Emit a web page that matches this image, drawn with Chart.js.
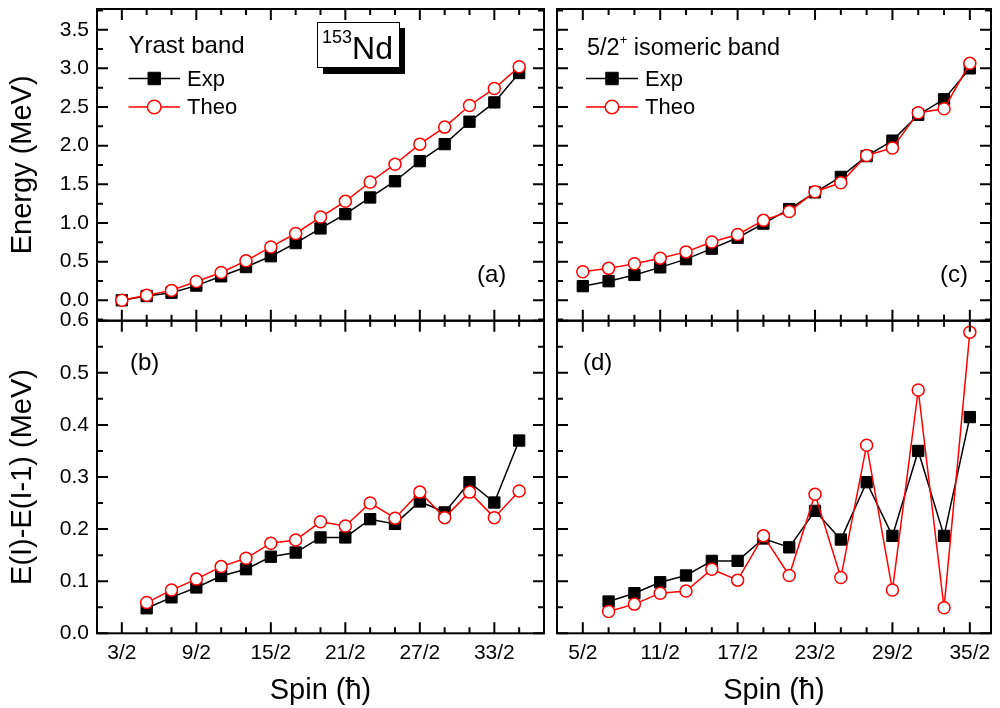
<!DOCTYPE html>
<html>
<head>
<meta charset="utf-8">
<script src="https://cdn.jsdelivr.net/npm/chart.js@4.4.1/dist/chart.umd.min.js"></script>
<style>
  html, body { margin: 0; padding: 0; background: #fff; }
  #wrap { position: relative; width: 1000px; height: 708px; overflow: hidden; }
  canvas { position: absolute; left: 0; top: 0; }
</style>
</head>
<body>
<div id="wrap">
  <canvas id="panelA" width="1000" height="708"></canvas>
  <canvas id="panelB" width="1000" height="708"></canvas>
  <canvas id="panelC" width="1000" height="708"></canvas>
  <canvas id="panelD" width="1000" height="708"></canvas>
</div>
<script>
// (a) yrast band energies
const spinsA = ['3/2','5/2','7/2','9/2','11/2','13/2','15/2','17/2','19/2','21/2','23/2','25/2','27/2','29/2','31/2','33/2','35/2'];
const expA  = [0.0, 0.055, 0.098, 0.19, 0.31, 0.43, 0.57, 0.74, 0.93, 1.115, 1.33, 1.54, 1.80, 2.02, 2.31, 2.56, 2.94];
const theoA = [0.0, 0.064, 0.128, 0.243, 0.36, 0.51, 0.69, 0.864, 1.077, 1.28, 1.53, 1.76, 2.02, 2.24, 2.52, 2.74, 3.02];

// (b) yrast band E(I)-E(I-1)
const spinsB = ['5/2','7/2','9/2','11/2','13/2','15/2','17/2','19/2','21/2','23/2','25/2','27/2','29/2','31/2','33/2','35/2'];
const expB  = [0.048, 0.069, 0.088, 0.110, 0.123, 0.147, 0.155, 0.184, 0.184, 0.219, 0.21, 0.253, 0.232, 0.29, 0.251, 0.37];
const theoB = [0.059, 0.083, 0.104, 0.128, 0.144, 0.173, 0.179, 0.214, 0.206, 0.25, 0.221, 0.271, 0.222, 0.271, 0.222, 0.273];

// (c) 5/2+ isomeric band energies
const spinsC = ['5/2','7/2','9/2','11/2','13/2','15/2','17/2','19/2','21/2','23/2','25/2','27/2','29/2','31/2','33/2','35/2'];
const expC  = [0.183, 0.247, 0.328, 0.426, 0.532, 0.668, 0.809, 0.992, 1.18, 1.396, 1.596, 1.865, 2.065, 2.40, 2.60, 3.00];
const theoC = [0.37, 0.413, 0.473, 0.545, 0.626, 0.754, 0.851, 1.034, 1.149, 1.405, 1.52, 1.873, 1.971, 2.427, 2.478, 3.065];

// (d) isomeric band E(I)-E(I-1)
const spinsD = ['7/2','9/2','11/2','13/2','15/2','17/2','19/2','21/2','23/2','25/2','27/2','29/2','31/2','33/2','35/2'];
const expD  = [0.061, 0.077, 0.098, 0.111, 0.139, 0.139, 0.182, 0.165, 0.235, 0.18, 0.29, 0.187, 0.35, 0.187, 0.415];
const theoD = [0.042, 0.056, 0.077, 0.081, 0.123, 0.102, 0.187, 0.111, 0.267, 0.107, 0.361, 0.083, 0.467, 0.049, 0.578];

// tick labels
const xTicksLeft  = ['3/2','9/2','15/2','21/2','27/2','33/2'];
const xTicksRight = ['5/2','11/2','17/2','23/2','29/2','35/2'];
const yTicksEnergy = ['0.0','0.5','1.0','1.5','2.0','2.5','3.0','3.5'];
const yTicksDiff   = ['0.0','0.1','0.2','0.3','0.4','0.5','0.6'];

const FONT = "'Liberation Sans', Arial, Helvetica, sans-serif";
Chart.defaults.font.family = FONT;
Chart.defaults.color = '#000';

const frac = s => { const [a, b] = s.split('/'); return a / b; };
const range = (from, to, step) => { const out = []; for (let v = from; v <= to + 1e-9; v += step) out.push(+v.toFixed(4)); return out; };

// frame with inward ticks on all four sides
const frameTicks = {
  id: 'frameTicks',
  afterDraw(chart, args, o) {
    const { ctx, chartArea: a, scales: { x, y } } = chart;
    ctx.save();
    ctx.strokeStyle = '#000';
    ctx.lineWidth = 2;
    ctx.beginPath();
    const mark = (vals, len, horiz) => vals.forEach(v => {
      if (horiz) {
        const px = x.getPixelForValue(v);
        ctx.moveTo(px, a.bottom); ctx.lineTo(px, a.bottom - len);
        ctx.moveTo(px, a.top); ctx.lineTo(px, a.top + len);
      } else {
        const py = y.getPixelForValue(v);
        ctx.moveTo(a.left, py); ctx.lineTo(a.left + len, py);
        ctx.moveTo(a.right, py); ctx.lineTo(a.right - len, py);
      }
    });
    mark(o.xMinor, 6, true); mark(o.xMajor, 11, true);
    mark(o.yMinor, 6, false); mark(o.yMajor, 11, false);
    ctx.stroke();
    ctx.strokeRect(a.left, a.top, a.right - a.left, a.bottom - a.top);
    ctx.restore();
  }
};

const drawParts = (ctx, parts, x, y) => {
  let cx = x;
  parts.forEach(p => {
    ctx.font = `${p.size}px ${FONT}`;
    ctx.fillText(p.t, cx, y - (p.rise || 0));
    cx += ctx.measureText(p.t).width;
  });
};

// labels, legend and the isotope box
const notes = {
  id: 'notes',
  afterDraw(chart, args, o) {
    const ctx = chart.ctx;
    ctx.save();
    ctx.fillStyle = '#000';
    ctx.textBaseline = 'alphabetic';
    ctx.textAlign = 'left';
    (o.texts || []).forEach(t => drawParts(ctx, t.parts, t.x, t.y));

    if (o.box) {
      const b = o.box;
      ctx.fillStyle = '#000';
      ctx.fillRect(b.x + 6, b.y + 6, b.w, b.h + 1);
      ctx.fillStyle = '#fff';
      ctx.fillRect(b.x, b.y, b.w, b.h);
      ctx.strokeStyle = '#000';
      ctx.lineWidth = 1;
      ctx.strokeRect(b.x + 0.5, b.y + 0.5, b.w, b.h);
      ctx.fillStyle = '#000';
      drawParts(ctx, [{ t: '153', size: 18, rise: 16 }, { t: 'Nd', size: 32 }], b.x + 5, b.y + 37);
    }

    if (o.legend) {
      const L = o.legend;
      L.order.forEach((idx, k) => {
        const ds = chart.data.datasets[idx];
        const yy = L.y + k * L.gap;
        ctx.strokeStyle = ds.borderColor;
        ctx.lineWidth = 1.5;
        ctx.beginPath();
        ctx.moveTo(L.x0, yy); ctx.lineTo(L.x1, yy);
        ctx.stroke();
        ctx.fillStyle = ds.pointBackgroundColor;
        ctx.strokeStyle = ds.pointBorderColor;
        ctx.lineWidth = ds.pointBorderWidth;
        Chart.helpers.drawPoint(ctx, { pointStyle: ds.pointStyle, radius: ds.pointRadius + 0.8, borderWidth: ds.pointBorderWidth, rotation: 0 }, (L.x0 + L.x1) / 2, yy);
        ctx.fillStyle = '#000';
        ctx.textBaseline = 'middle';
        ctx.font = `22px ${FONT}`;
        ctx.fillText(ds.label, L.x1 + 7, yy + 1);
      });
    }
    ctx.restore();
  }
};

function panel(id, o) {
  const zeroPad = s => { s.paddingLeft = 0; s.paddingRight = 0; s.paddingTop = 0; s.paddingBottom = 0; };
  return new Chart(document.getElementById(id), {
    type: 'line',
    data: {
      datasets: [
        {
          label: 'Exp',
          data: o.spins.map((s, i) => ({ x: frac(s), y: o.exp[i] })),
          borderColor: '#000', borderWidth: 1.5,
          pointStyle: 'rect', pointRadius: 8, pointBorderWidth: 1,
          pointBackgroundColor: '#000', pointBorderColor: '#000',
          tension: 0, order: 1, clip: false
        },
        {
          label: 'Theo',
          data: o.spins.map((s, i) => ({ x: frac(s), y: o.theo[i] })),
          borderColor: '#ff0000', borderWidth: 1.5,
          pointStyle: 'circle', pointRadius: 6, pointBorderWidth: 1.5,
          pointBackgroundColor: '#fff', pointBorderColor: '#ff0000',
          tension: 0, order: 0, clip: false
        }
      ]
    },
    options: {
      responsive: false,
      animation: false,
      events: [],
      layout: { padding: o.padding },
      plugins: {
        legend: { display: false },
        tooltip: { enabled: false },
        frameTicks: o.frame,
        notes: o.notes
      },
      scales: {
        x: {
          type: 'linear', min: o.xMin, max: o.xMax, display: o.showX,
          grid: { display: false, drawTicks: false }, border: { display: false },
          afterBuildTicks: s => { s.ticks = o.xTicks.map(t => ({ value: frac(t) })); },
          ticks: { autoSkip: false, maxRotation: 0, padding: 7, font: { size: 21 }, callback: (v, i) => o.xTicks[i] },
          title: { display: o.showX, text: 'Spin (ħ)', font: { size: 29 }, padding: 0 },
          afterFit: s => { s.height = o.showX ? 74.7 : 0; zeroPad(s); }
        },
        y: {
          type: 'linear', min: o.yMin, max: o.yMax, display: o.showY,
          grid: { display: false, drawTicks: false }, border: { display: false },
          afterBuildTicks: s => { s.ticks = o.yTicks.map(t => ({ value: parseFloat(t) })); },
          ticks: { padding: 8, font: { size: 21 }, callback: (v, i) => o.yTicks[i] },
          title: { display: o.showY, text: o.yTitle, font: { size: 29 }, padding: { top: 6, bottom: 0 } },
          afterFit: s => { s.width = o.showY ? 97 : 0; zeroPad(s); }
        }
      }
    },
    plugins: [frameTicks, notes]
  });
}

const leftX = { xMin: 0.5, xMax: 18.5, xTicks: xTicksLeft };
const rightX = { xMin: 1.5, xMax: 18.32, xTicks: xTicksRight };
const frameLeft = { xMinor: range(1.5, 17.5, 1), xMajor: xTicksLeft.map(frac) };
const frameRight = { xMinor: range(2.5, 17.5, 1), xMajor: xTicksRight.map(frac) };
const energyY = { yMin: -0.264, yMax: 3.768, yTicks: yTicksEnergy, yMinor: range(-0.25, 3.75, 0.25), yMajor: range(0, 3.5, 0.5) };
const diffY = { yMin: 0, yMax: 0.6, yTicks: yTicksDiff, yMinor: range(0.05, 0.55, 0.05), yMajor: range(0, 0.6, 0.1) };
const topPad = { top: 5, bottom: 708 - 320.7 };
const botPad = { top: 320.7, bottom: 0 };

panel('panelA', {
  spins: spinsA, exp: expA, theo: theoA,
  ...leftX, yMin: energyY.yMin, yMax: energyY.yMax, yTicks: energyY.yTicks,
  showX: false, showY: true, yTitle: 'Energy (MeV)',
  padding: { ...topPad, left: 0, right: 456 },
  frame: { ...frameLeft, yMinor: energyY.yMinor, yMajor: energyY.yMajor },
  notes: {
    texts: [
      { parts: [{ t: 'Yrast band', size: 24 }], x: 128.5, y: 53 },
      { parts: [{ t: '(a)', size: 24 }], x: 477, y: 282 }
    ],
    legend: { order: [0, 1], x0: 128.5, x1: 180, y: 78.5, gap: 28.5 },
    box: { x: 317, y: 22, w: 82, h: 45 }
  }
});

panel('panelB', {
  spins: spinsB, exp: expB, theo: theoB,
  ...leftX, yMin: diffY.yMin, yMax: diffY.yMax, yTicks: diffY.yTicks,
  showX: true, showY: true, yTitle: 'E(I)-E(I-1) (MeV)',
  padding: { ...botPad, left: 0, right: 456 },
  frame: { ...frameLeft, yMinor: diffY.yMinor, yMajor: diffY.yMajor },
  notes: { texts: [{ parts: [{ t: '(b)', size: 24 }], x: 130, y: 370 }] }
});

panel('panelC', {
  spins: spinsC, exp: expC, theo: theoC,
  ...rightX, yMin: energyY.yMin, yMax: energyY.yMax, yTicks: energyY.yTicks,
  showX: false, showY: false, yTitle: '',
  padding: { ...topPad, left: 557, right: 0 },
  frame: { ...frameRight, yMinor: energyY.yMinor, yMajor: energyY.yMajor },
  notes: {
    texts: [
      { parts: [{ t: '5/2', size: 23.5 }, { t: '+', size: 13, rise: 11 }, { t: ' isomeric band', size: 23.5 }], x: 587, y: 55 },
      { parts: [{ t: '(c)', size: 24 }], x: 940, y: 282 }
    ],
    legend: { order: [0, 1], x0: 586, x1: 638, y: 78.5, gap: 28.5 }
  }
});

panel('panelD', {
  spins: spinsD, exp: expD, theo: theoD,
  ...rightX, yMin: diffY.yMin, yMax: diffY.yMax, yTicks: diffY.yTicks,
  showX: true, showY: false, yTitle: '',
  padding: { ...botPad, left: 557, right: 0 },
  frame: { ...frameRight, yMinor: diffY.yMinor, yMajor: diffY.yMajor },
  notes: { texts: [{ parts: [{ t: '(d)', size: 24 }], x: 583, y: 370 }] }
});
</script>
</body>
</html>
